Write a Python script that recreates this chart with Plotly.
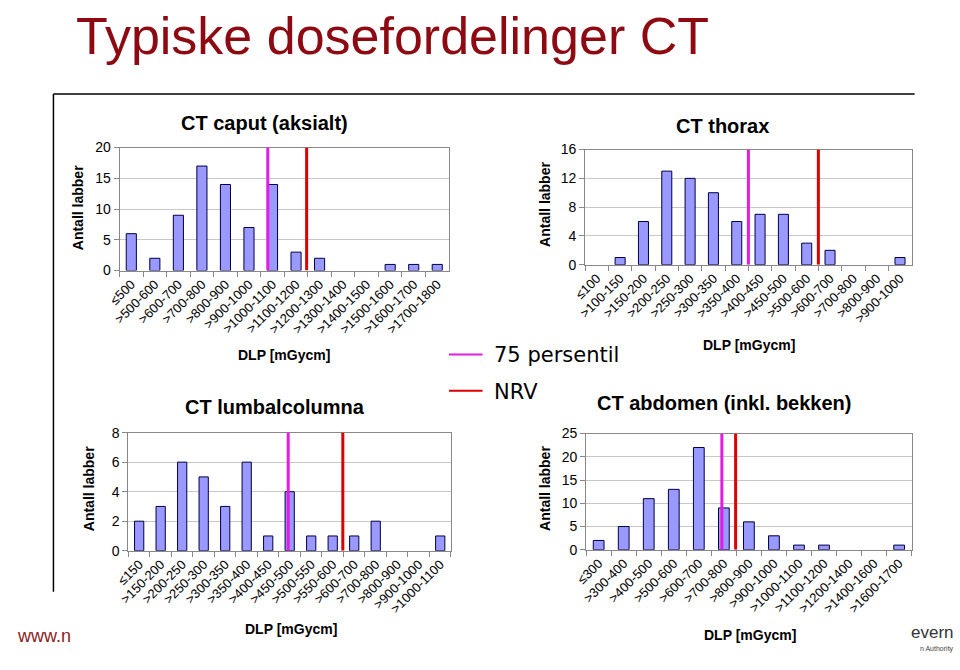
import plotly.graph_objects as go

# ---------------- data ----------------
caput_cats = ["≤500", ">500-600", ">600-700", ">700-800", ">800-900", ">900-1000",
              ">1000-1100", ">1100-1200", ">1200-1300", ">1300-1400", ">1400-1500",
              ">1500-1600", ">1600-1700", ">1700-1800"]
caput_vals = [6, 2, 9, 17, 14, 7, 14, 3, 2, 0, 0, 1, 1, 1]
caput_p75 = 5.8      # position on category axis
caput_nrv = 7.45

thorax_cats = ["≤100", ">100-150", ">150-200", ">200-250", ">250-300", ">300-350",
               ">350-400", ">400-450", ">450-500", ">500-600", ">600-700",
               ">700-800", ">800-900", ">900-1000"]
thorax_vals = [0, 1, 6, 13, 12, 10, 6, 7, 7, 3, 2, 0, 0, 1]
thorax_p75 = 6.5
thorax_nrv = 9.5

lumbal_cats = ["≤150", ">150-200", ">200-250", ">250-300", ">300-350", ">350-400",
               ">400-450", ">450-500", ">500-550", ">550-600", ">600-700",
               ">700-800", ">800-900", ">900-1000", ">1000-1100"]
lumbal_vals = [2, 3, 6, 5, 3, 6, 1, 4, 1, 1, 1, 2, 0, 0, 1]
lumbal_p75 = 6.93
lumbal_nrv = 9.47

abdomen_cats = ["≤300", ">300-400", ">400-500", ">500-600", ">600-700", ">700-800",
                ">800-900", ">900-1000", ">1000-1100", ">1100-1200", ">1200-1400",
                ">1400-1600", ">1600-1700"]
abdomen_vals = [2, 5, 11, 13, 22, 9, 6, 3, 1, 1, 0, 0, 1]
abdomen_p75 = 4.92
abdomen_nrv = 5.47

titles = ["CT caput (aksialt)", "CT thorax", "CT lumbalcolumna", "CT abdomen (inkl. bekken)"]
y_ranges = [20, 16, 8, 25]
y_dticks = [5, 4, 2, 5]
x_title = "DLP [mGycm]"
y_title = "Antall labber"
main_title = "Typiske dosefordelinger CT"
legend_labels = ["75 persentil", "NRV"]

# ---------------- styling ----------------
W, H = 960, 670
BAR = "#9999FF"
MAG = "#E21CE2"
RED = "#DD0000"
FONT = "Liberation Sans, Arial, sans-serif"

def px_x(p):
    return p / W

def px_y(p):
    return 1 - p / H

# plot areas in pixels: (left, right, top, bottom)
areas = [(108, 442, 143, 269), (580, 911, 145, 263), (117, 444, 435, 556), (581, 911, 436, 555)]
title_pos = [(255, 118), (719, 121), (266, 409), (721, 405)]
xt_pos = [(275, 356), (746, 345), (282, 636), (747, 642)]
yt_pos = [(66, 205), (540, 201), (77, 492), (540, 492)]

datasets = [
    (caput_cats, caput_vals, caput_p75, caput_nrv),
    (thorax_cats, thorax_vals, thorax_p75, thorax_nrv),
    (lumbal_cats, lumbal_vals, lumbal_p75, lumbal_nrv),
    (abdomen_cats, abdomen_vals, abdomen_p75, abdomen_nrv),
]

fig = go.Figure()
layout = {}
shapes = []
annotations = []

for i, (cats, vals, p75, nrv) in enumerate(datasets):
    n = i + 1
    xa = "x" if n == 1 else f"x{n}"
    ya = "y" if n == 1 else f"y{n}"
    fig.add_trace(go.Bar(x=cats, y=vals, xaxis=xa, yaxis=ya,
                         marker=dict(color=BAR,
                                     line=dict(color="#000040",
                                               width=[1 if v > 0 else 0 for v in vals])),
                         showlegend=False, hoverinfo="x+y"))
    l, r, t, b = areas[i]
    layout["xaxis" if n == 1 else f"xaxis{n}"] = dict(
        domain=[px_x(l), px_x(r)], anchor=ya, type="category",
        tickangle=-45, tickfont=dict(family=FONT, size=13, color="#000"),
        ticks="outside", ticklen=5, tickcolor="#888", tickson="boundaries",
        showline=True, linecolor="#888", linewidth=1, mirror=True,
        showgrid=False, range=[-0.5, len(cats) - 0.5], fixedrange=True)
    layout["yaxis" if n == 1 else f"yaxis{n}"] = dict(
        domain=[px_y(b), px_y(t)], anchor=xa, range=[0, y_ranges[i]],
        dtick=y_dticks[i], tickfont=dict(family=FONT, size=14, color="#000"),
        ticks="outside", ticklen=5, tickcolor="#888",
        showline=True, linecolor="#888", linewidth=1, mirror=True,
        showgrid=True, gridcolor="#C8C8C8", gridwidth=1, zeroline=False,
        fixedrange=True)
    # percentile / NRV lines
    for pos, col in ((p75, MAG), (nrv, RED)):
        shapes.append(dict(type="line", xref=xa, yref=ya, x0=pos, x1=pos,
                           y0=0, y1=y_ranges[i], line=dict(color=col, width=3)))
    tx, ty = title_pos[i]
    annotations.append(dict(text="<b>" + titles[i] + "</b>", x=px_x(tx), y=px_y(ty),
                            xref="paper", yref="paper",
                            showarrow=False, xanchor="center", yanchor="middle",
                            font=dict(family=FONT, size=20, color="#000")))
    xx, xy = xt_pos[i]
    annotations.append(dict(text="<b>" + x_title + "</b>", x=px_x(xx), y=px_y(xy),
                            xref="paper", yref="paper", showarrow=False,
                            xanchor="center", yanchor="middle",
                            font=dict(family=FONT, size=14, color="#000")))
    yx, yy = yt_pos[i]
    annotations.append(dict(text="<b>" + y_title + "</b>", x=px_x(yx), y=px_y(yy),
                            xref="paper", yref="paper", showarrow=False, textangle=-90,
                            xanchor="center", yanchor="middle",
                            font=dict(family=FONT, size=14, color="#000")))

# main title
annotations.append(dict(text=main_title, x=px_x(62), y=px_y(29), xref="paper", yref="paper",
                        showarrow=False, xanchor="left", yanchor="middle",
                        font=dict(family="Liberation Sans, Arial, sans-serif", size=52, color="#8E0A12")))

# legend (manual)
for (ly, col, lab) in ((355, MAG, legend_labels[0]), (392, RED, legend_labels[1])):
    shapes.append(dict(type="line", xref="paper", yref="paper", x0=px_x(442), x1=px_x(476),
                       y0=px_y(ly), y1=px_y(ly), line=dict(color=col, width=2)))
    annotations.append(dict(text=lab, x=px_x(486), y=px_y(ly + 1), xref="paper", yref="paper",
                            showarrow=False, xanchor="left", yanchor="middle",
                            font=dict(family="DejaVu Sans, sans-serif", size=21, color="#000")))

# frame
shapes.append(dict(type="line", xref="paper", yref="paper", x0=px_x(41), x1=px_x(914),
                   y0=px_y(88), y1=px_y(88), line=dict(color="#000", width=1.5)))
shapes.append(dict(type="line", xref="paper", yref="paper", x0=px_x(41), x1=px_x(41),
                   y0=px_y(88), y1=px_y(598), line=dict(color="#000", width=1.5)))

# footer
annotations.append(dict(text="www.n", x=px_x(2), y=px_y(643), xref="paper", yref="paper",
                        showarrow=False, xanchor="left", yanchor="middle",
                        font=dict(family=FONT, size=18, color="#8E1A22")))
annotations.append(dict(text="evern", x=px_x(956), y=px_y(640), xref="paper", yref="paper",
                        showarrow=False, xanchor="right", yanchor="middle",
                        font=dict(family="Liberation Sans Narrow, Liberation Sans, sans-serif", size=17, color="#333")))
annotations.append(dict(text="n Authority", x=px_x(956), y=px_y(657), xref="paper", yref="paper",
                        showarrow=False, xanchor="right", yanchor="middle",
                        font=dict(family=FONT, size=7, color="#444")))

fig.update_layout(width=W, height=H, margin=dict(l=0, r=0, t=0, b=0),
                  paper_bgcolor="white", plot_bgcolor="white", bargap=0.57,
                  shapes=shapes, annotations=annotations, showlegend=False, **layout)

fig.write_html("out.html", config={"displayModeBar": False},
               post_script="document.body.style.margin='0';document.body.style.overflow='hidden';")
